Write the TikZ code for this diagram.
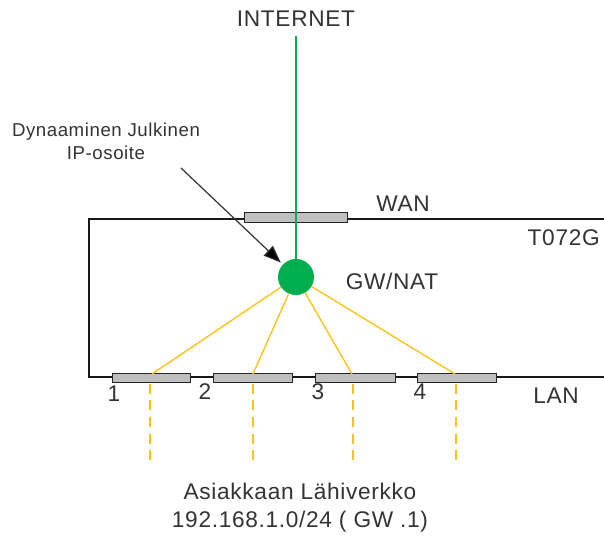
\documentclass[tikz,border=0pt]{standalone}
\usepackage{fontspec}
\setmainfont[LetterSpace=3]{Liberation Sans}
\usetikzlibrary{arrows.meta}
\definecolor{txt}{HTML}{333333}
\definecolor{gwgreen}{HTML}{00AD4F}
\definecolor{lanyel}{HTML}{FFC20E}
\definecolor{bargray}{HTML}{BFBFBF}
\tikzset{
  lbl/.style={text=txt, font=\fontsize{17}{20}\selectfont, inner sep=0pt},
  small/.style={text=txt, font=\fontsize{14}{17}\selectfont, inner sep=0pt, align=center},
  port/.style={draw=black!85, line width=0.9pt, fill=bargray, minimum height=7pt, inner sep=0pt, anchor=west},
  boxline/.style={draw=black!90, line width=1.1pt},
  yel/.style={draw=lanyel, line width=1pt},
  yeldash/.style={draw=lanyel, line width=1pt, dash pattern=on 7.5pt off 5pt},
}
\begin{document}
\begin{tikzpicture}[x=0.75pt, y=-0.75pt]
\useasboundingbox (0,0) rectangle (604,536);
% enclosure
\draw[boxline] (604,219) -- (89,219) -- (89,377) -- (604,377);
% ports
\node[port, minimum width=77pt] (wan) at (244,217.5) {};
\node[port, minimum width=58.5pt] (lan1) at (112,378) {};
\node[port, minimum width=59pt] (lan2) at (213,378) {};
\node[port, minimum width=60pt] (lan3) at (315,378) {};
\node[port, minimum width=59pt] (lan4) at (417,378) {};
% gateway
\node[circle, fill=gwgreen, minimum size=27pt, inner sep=0pt] (gw) at (296,277) {};
% labels
\node[lbl] (internet) at (296,19) {INTERNET};
\node[lbl] (wanl) at (403,204) {WAN};
\node[lbl, anchor=east] (model) at (600,238) {T072G};
\node[lbl] (gwl) at (392,281) {GW/NAT};
\node[lbl] (lanl) at (556,396) {LAN};
\node[lbl] (n1) at (114,394) {1};
\node[lbl] (n2) at (205,392) {2};
\node[lbl] (n3) at (318,392) {3};
\node[lbl] (n4) at (420,392) {4};
\node[small] (pub) at (106,141) {Dynaaminen Julkinen\\IP-osoite};
\node[lbl, align=center] (net) at (300,508) {Asiakkaan Lähiverkko\\[1pt]192.168.1.0/24 ( GW .1)};
% internet uplink
\coordinate (up) at (296,36);
\draw[draw=gwgreen, line width=1pt] (up) -- (gw);
% LAN links
\foreach \i/\x/\xd in {1/152/150, 2/253/253, 3/352/353, 4/455/456}{
  \coordinate (p\i) at (\x,374);
  \coordinate (q\i) at (\xd,383.5);
  \coordinate (e\i) at (\xd,464);
  \draw[yel] (gw) -- (p\i);
  \draw[yeldash] (q\i) -- (e\i);
}
% arrow
\coordinate (a1) at (181,168);
\draw[draw=black!80, line width=0.9pt, -{Triangle[length=13pt, width=10pt, fill=black]}, shorten >=2pt] (a1) -- (gw);
\end{tikzpicture}
\end{document}
